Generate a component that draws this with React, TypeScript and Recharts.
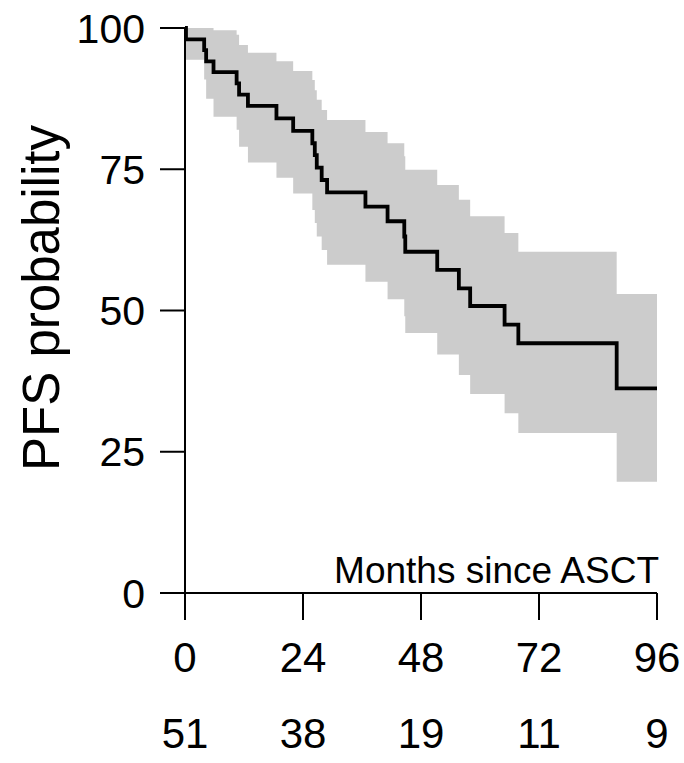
import React from "react";
import { ComposedChart, Area, Line, XAxis, YAxis } from "recharts";

// Kaplan-Meier PFS estimate with 95% CI
const months = [0, 0.2, 3.9, 4.3, 5.8, 10.5, 11.0, 12.8, 18.6, 22.0, 25.9, 26.4, 26.8, 27.8, 28.9, 36.7, 41.2, 44.6, 44.8, 51.3, 55.7, 58.0, 65.0, 67.8, 87.8, 96];
const pfs = [100, 98.0, 96.1, 94.1, 92.2, 90.2, 88.2, 86.2, 84.0, 81.8, 79.6, 77.5, 75.3, 73.1, 70.9, 68.4, 65.8, 63.1, 60.4, 57.2, 53.9, 50.8, 47.5, 44.2, 36.2, 36.2];
const ciUpper = [100, 100, 100, 100, 99.6, 98.8, 97.0, 95.6, 94.1, 92.4, 90.8, 89.0, 87.3, 85.5, 83.7, 81.6, 79.6, 77.3, 74.9, 72.2, 69.6, 66.7, 63.7, 60.4, 52.9, 52.9];
const ciLower = [100, 94.4, 90.9, 87.5, 84.3, 82.0, 79.0, 76.2, 73.5, 70.7, 67.8, 65.5, 63.1, 60.7, 58.1, 55.1, 52.0, 49.0, 46.0, 42.2, 38.6, 35.2, 31.8, 28.3, 19.7, 19.7];

const xTicks = [0, 24, 48, 72, 96];
const atRisk = [51, 38, 19, 11, 9];
const yTicks = [0, 25, 50, 75, 100];

const data = months.map((t, i) => ({
  t,
  surv: pfs[i],
  band: [ciLower[i], ciUpper[i]],
}));

const FONT = "'Liberation Sans', Arial, sans-serif";

const XTick = (props: any) => {
  const { x, y, payload, index } = props;
  return (
    <g>
      <text x={x} y={y + 51.7} textAnchor="middle" fontSize={42} fontFamily={FONT} fill="#000">
        {payload.value}
      </text>
      <text x={x} y={y + 128.3} textAnchor="middle" fontSize={42} fontFamily={FONT} fill="#000">
        {atRisk[index]}
      </text>
    </g>
  );
};

const MonthsLabel = (props: any) => {
  const vb = props.viewBox || { x: 185, y: 593, width: 472 };
  return (
    <text x={vb.x + vb.width + 2} y={vb.y - 9.7} textAnchor="end" fontSize={37} fontFamily={FONT} fill="#000">
      Months since ASCT
    </text>
  );
};

const PfsLabel = () => {
  const x = 59;
  const y = 298;
  return (
    <text
      x={x}
      y={y}
      transform={`rotate(-90, ${x}, ${y})`}
      textAnchor="middle"
      fontSize={51}
      fontFamily={FONT}
      fill="#000"
    >
      PFS probability
    </text>
  );
};

export default function App() {
  return (
    <div style={{ position: "absolute", left: 0, top: 0, background: "#fff" }}>
      <ComposedChart
        width={684}
        height={763}
        data={data}
        margin={{ top: 28, right: 27, left: 0, bottom: 0 }}
      >
        <XAxis
          dataKey="t"
          type="number"
          domain={[0, 96]}
          ticks={xTicks}
          interval={0}
          height={170}
          tickSize={27}
          tickMargin={0}
          axisLine={{ stroke: "#000", strokeWidth: 2 }}
          tickLine={{ stroke: "#000", strokeWidth: 2 }}
          tick={<XTick />}
          label={<MonthsLabel />}
        />
        <YAxis
          type="number"
          domain={[0, 100]}
          ticks={yTicks}
          interval={0}
          width={185}
          tickSize={25}
          tickMargin={15}
          axisLine={{ stroke: "#000", strokeWidth: 2 }}
          tickLine={{ stroke: "#000", strokeWidth: 2 }}
          tick={{ fontSize: 41, fill: "#000", fontFamily: FONT }}
          label={<PfsLabel />}
        />
        <Area
          dataKey="band"
          type="stepAfter"
          fill="#cccccc"
          fillOpacity={1}
          stroke="none"
          isAnimationActive={false}
        />
        <Line
          dataKey="surv"
          type="stepAfter"
          stroke="#000"
          strokeWidth={3.8}
          dot={false}
          isAnimationActive={false}
        />
      </ComposedChart>
    </div>
  );
}
